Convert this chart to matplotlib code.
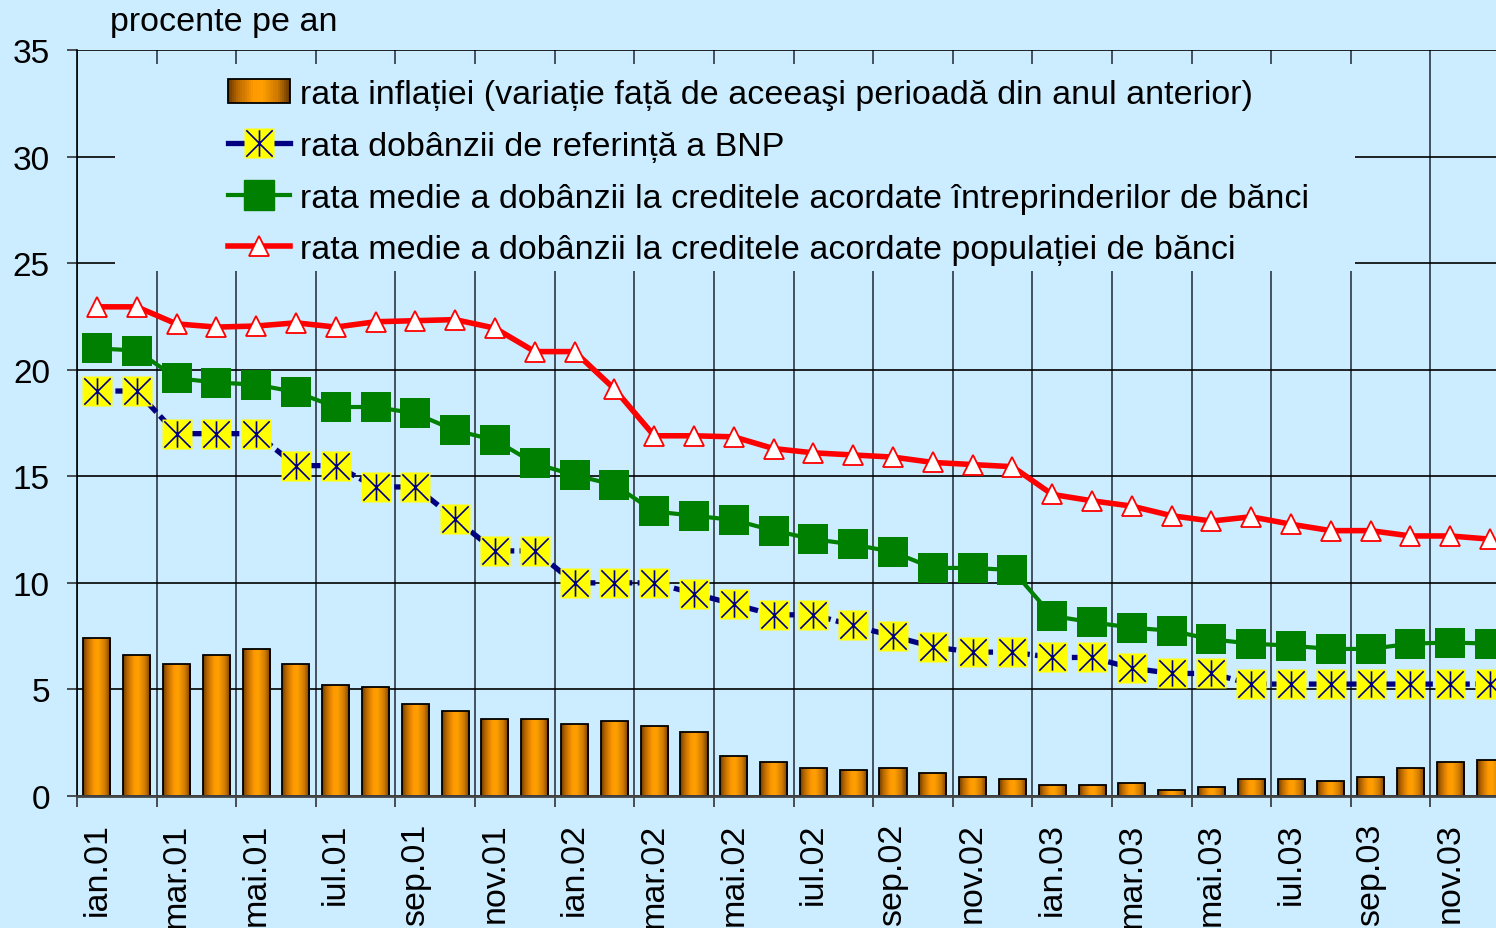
import numpy as np
import matplotlib
matplotlib.use('Agg')
import matplotlib.pyplot as plt
from matplotlib.path import Path
from matplotlib.patches import Rectangle
from matplotlib.lines import Line2D
from matplotlib.colors import LinearSegmentedColormap
from matplotlib.legend_handler import HandlerBase

plt.rcParams['font.family'] = ['Liberation Sans', 'DejaVu Sans']

# --- data (ian.01 ... dec.03) ---
months = ['ian', 'feb', 'mar', 'apr', 'mai', 'iun', 'iul', 'aug', 'sep', 'oct', 'nov', 'dec']
years = ['01', '02', '03']
periods = [f'{m}.{y}' for y in years for m in months]

inflation = [7.4, 6.6, 6.2, 6.6, 6.9, 6.2, 5.2, 5.1, 4.3, 4.0, 3.6, 3.6,
             3.4, 3.5, 3.3, 3.0, 1.9, 1.6, 1.3, 1.2, 1.3, 1.1, 0.9, 0.8,
             0.5, 0.5, 0.6, 0.3, 0.4, 0.8, 0.8, 0.7, 0.9, 1.3, 1.6, 1.7]
ref_rate = [19.0, 19.0, 17.0, 17.0, 17.0, 15.5, 15.5, 14.5, 14.5, 13.0, 11.5, 11.5,
            10.0, 10.0, 10.0, 9.5, 9.0, 8.5, 8.5, 8.0, 7.5, 7.0, 6.75, 6.75,
            6.5, 6.5, 6.0, 5.75, 5.75, 5.25, 5.25, 5.25, 5.25, 5.25, 5.25, 5.25]
firms_rate = [21.0, 20.9, 19.6, 19.4, 19.3, 18.95, 18.25, 18.25, 17.95, 17.15, 16.7, 15.6,
              15.05, 14.6, 13.35, 13.15, 12.95, 12.45, 12.05, 11.8, 11.45, 10.7, 10.7, 10.6,
              8.45, 8.15, 7.9, 7.75, 7.35, 7.15, 7.05, 6.9, 6.9, 7.15, 7.2, 7.15]
house_rate = [22.95, 22.95, 22.15, 22.0, 22.05, 22.2, 22.0, 22.25, 22.3, 22.35, 21.95, 20.85,
              20.85, 19.1, 16.9, 16.9, 16.85, 16.3, 16.1, 16.0, 15.9, 15.65, 15.55, 15.45,
              14.15, 13.85, 13.6, 13.15, 12.9, 13.1, 12.75, 12.45, 12.45, 12.2, 12.2, 12.05]

labels = ['rata inflației (variație față de aceeaşi perioadă din anul anterior)',
          'rata dobânzii de referință a BNP',
          'rata medie a dobânzii la creditele acordate întreprinderilor de bănci',
          'rata medie a dobânzii la creditele acordate populației de bănci']

BG = '#CCECFF'
W, H = 1496, 929
fig = plt.figure(figsize=(W / 100, H / 100), dpi=100, facecolor=BG)
# plot area runs past the right edge of the picture (cropped like the original)
ax = fig.add_axes([77 / W, 1 - 797 / H, 1433 / W, 746 / H], facecolor=BG)

x = np.arange(len(periods))

# cylinder-like gradient for the bars
cyl = LinearSegmentedColormap.from_list('cyl', [
    (0.0, '#6e3c00'), (0.15, '#b86800'), (0.4, '#ff9900'),
    (0.55, '#ffa000'), (0.8, '#d07a00'), (1.0, '#6e3c00')])
grad = np.linspace(0, 1, 64).reshape(1, -1)

bars = ax.bar(x, inflation, width=0.68, color='#ff9900', linewidth=0, zorder=2)
for b in bars:
    im = ax.imshow(grad, cmap=cyl, aspect='auto', interpolation='bilinear', zorder=2.1,
                   extent=[b.get_x(), b.get_x() + b.get_width(), 0, b.get_height()])
    im.set_clip_path(b)
ax.bar(x, inflation, width=0.68, fill=False, edgecolor='black', linewidth=1.3, zorder=2.2)

# reference rate: dashed navy with yellow squares + star
star = Path([(0, -1), (0, 1), (-1, -1), (1, 1), (-1, 1), (1, -1)],
            [Path.MOVETO, Path.LINETO, Path.MOVETO, Path.LINETO, Path.MOVETO, Path.LINETO])
ax.plot(x, ref_rate, color='#000080', lw=3.8, ls=(0, (2.5, 1)), marker='s', ms=21,
        mfc='#FFFF00', mec='none', zorder=4)
ax.plot(x, ref_rate, ls='none', marker=star, ms=19, mec='#000080', mew=1.2, zorder=4.1)

ax.plot(x, firms_rate, color='#008000', lw=3, marker='s', ms=21, mfc='#008000',
        mec='#008000', mew=0, zorder=5)
ax.plot(x, house_rate, color='#FF0000', lw=4, marker='^', ms=15, mfc='white',
        mec='#FF0000', mew=1.3, zorder=6)

ax.set_xlim(-0.5, len(periods) - 0.5)
ax.set_ylim(0, 35)

# axes, ticks, grid
ax.set_yticks(np.arange(0, 36, 5))
ax.tick_params(axis='y', length=7.5, width=1.2, pad=12, labelsize=24, color='#333333')
ax.set_xticks(np.arange(-0.5, len(periods), 2))
ax.set_xticklabels([])
ax.set_xticks(x[::2], minor=True)
ax.set_xticklabels(periods[::2], minor=True, rotation=90, fontsize=24.5, va='top', ha='center')
ax.tick_params(axis='x', which='major', length=8, width=1.2, color='#333333')
ax.tick_params(axis='x', which='minor', length=0, pad=19)
ax.grid(axis='y', color='black', lw=1.2, zorder=1)
ax.grid(axis='x', which='major', color='#3a4450', lw=1.3, zorder=1)
ax.set_axisbelow(True)
for s in ['top', 'right']:
    ax.spines[s].set_visible(False)
ax.spines['left'].set_linewidth(1.2)
ax.spines['bottom'].set_color('#444444')
ax.spines['bottom'].set_linewidth(2)

# legend area hides the gridlines
ax.add_patch(Rectangle((38 / 1433, (797 - 272) / 746), 1240 / 1433, 207 / 746,
                       transform=ax.transAxes, facecolor=BG, edgecolor='none', zorder=1.5))


class GradientHandler(HandlerBase):
    def create_artists(self, legend, orig_handle, xdescent, ydescent, width, height,
                       fontsize, trans):
        n = 30
        arts = []
        for i in range(n):
            r = Rectangle((-xdescent + width * i / n, -ydescent), width / n + 0.3, height,
                          facecolor=cyl(i / (n - 1)), edgecolor='none', transform=trans)
            arts.append(r)
        arts.append(Rectangle((-xdescent, -ydescent), width, height, fill=False,
                              edgecolor='black', lw=1.3, transform=trans))
        return arts


h_bar = Rectangle((0, 0), 1, 1)
h_ref = (Line2D([], [], color='#000080', lw=3.8, marker='s', ms=21, mfc='#FFFF00', mec='none'),
         Line2D([], [], ls='none', marker=star, ms=19, mec='#000080', mew=1.2))
h_firm = Line2D([], [], color='#008000', lw=3, marker='s', ms=21, mfc='#008000', mec='#008000')
h_house = Line2D([], [], color='#FF0000', lw=4, marker='^', ms=15, mfc='white',
                 mec='#FF0000', mew=1.3)
leg = fig.legend([h_bar, h_ref, h_firm, h_house], labels, loc='upper left',
                 bbox_to_anchor=(228 / W, 1 - 80 / H), frameon=False, fontsize=24.5,
                 borderpad=0, borderaxespad=0, labelspacing=0.61, handlelength=1.82,
                 handletextpad=0.29, handler_map={Rectangle: GradientHandler()})

fig.text(110 / W, 1 - 22 / H, 'procente pe an', fontsize=24.5, va='center', ha='left')

fig.savefig('out.png', dpi=100, facecolor=BG)
